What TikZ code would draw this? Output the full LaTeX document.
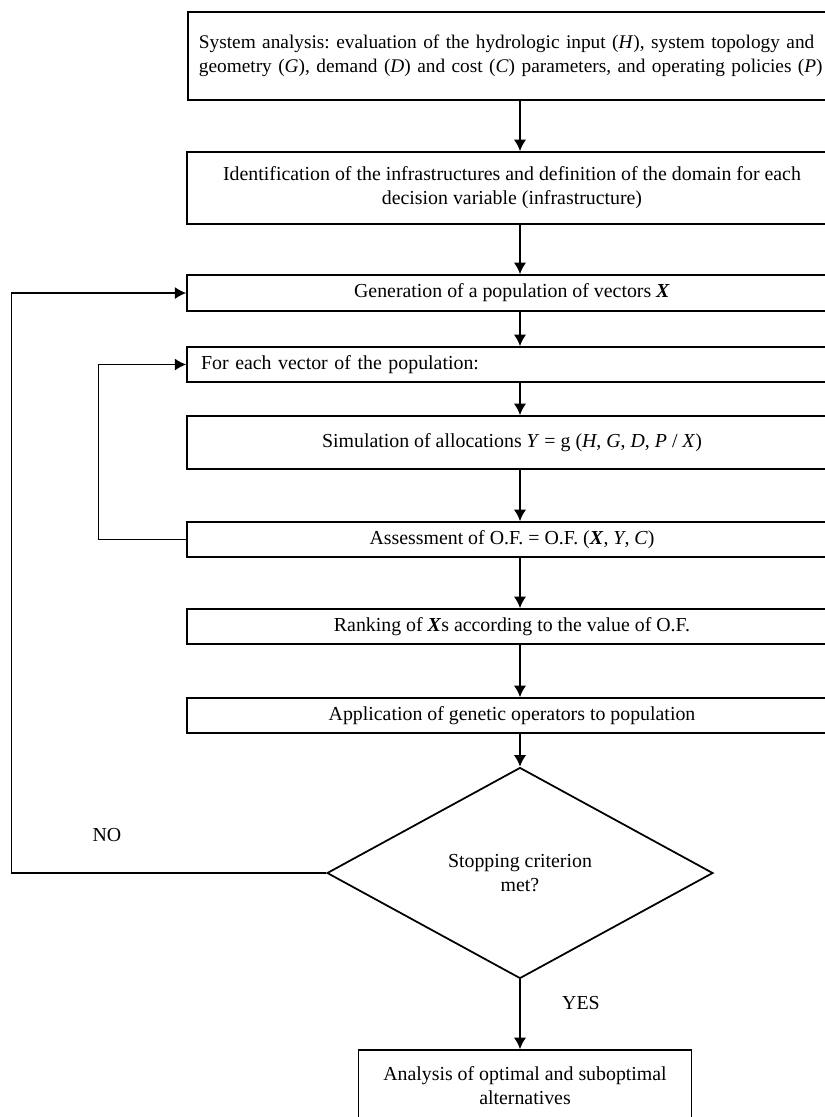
\documentclass[tikz,border=0pt]{standalone}
\usepackage{fontspec}
\setmainfont{Liberation Serif}
\frenchspacing
\usetikzlibrary{shapes.geometric,arrows.meta}

\tikzset{
	txt/.style = {font = \fontsize{11.3}{13.7}\selectfont},
	box/.style = {txt, draw, line width = 1pt, rectangle, minimum width = 13cm, inner xsep = 0.2cm, align = center},
	arr/.style = {-{Latex[length = 6.5pt, width = 7pt]}, line width = 1pt},
}

\begin{document}
\begin{tikzpicture}[x = 0.02cm, y = -0.02cm]
	%	frame
	\clip (0, 0) rectangle (825, 1117);
	
	%	main axis and loop corners
	\coordinate (ax) at (520, 0);
	\coordinate (outer) at (11.6, 0);
	\coordinate (inner) at (98.4, 0);
	
	%	boxes
	\node[box, font = \fontsize{11}{13.7}\selectfont, minimum height = 1.766cm, text width = 13.5cm, inner xsep = 0.22cm, align = left, anchor = west] (sys) at (187, 56)
		{System analysis: evaluation of the hydrologic input (\textit{H}), system topology and\\
		geometry (\textit{G}), demand (\textit{D}) and cost (\textit{C}) parameters, and operating policies (\textit{P})};
	\node[box, minimum height = 1.44cm] (ident) at (512, 188)
		{Identification of the infrastructures and definition of the domain for each\\ decision variable (infrastructure)};
	\node[box, minimum height = 0.72cm] (gen) at (512, 293)
		{Generation of a population of vectors \textbf{\textit{X}}};
	\node[box, minimum height = 0.70cm, text width = 12.44cm, inner xsep = 0.28cm, align = left] (foreach) at (512, 364.5)
		{For each vector of the population:};
	\node[box, minimum height = 1.06cm] (sim) at (512, 442.5)
		{Simulation of allocations \textit{Y} = g (\textit{H}, \textit{G}, \textit{D}, \textit{P} / \textit{X})};
	\node[box, minimum height = 0.70cm] (assess) at (512, 539.5)
		{Assessment of O.F. = O.F. (\textbf{\textit{X}}, \textit{Y}, \textit{C})};
	\node[box, minimum height = 0.70cm] (rank) at (512, 626.5)
		{Ranking of \textbf{\textit{X}}s according to the value of O.F.};
	\node[box, minimum height = 0.70cm] (appl) at (512, 715.5)
		{Application of genetic operators to population};
	
	%	decision
	\node[txt, draw, diamond, line width = 1pt, minimum width = 7.72cm, minimum height = 4.22cm, inner sep = 0, align = center] (stop) at (520, 873)
		{Stopping criterion\\ met?};
	\node[box, minimum width = 6.66cm, minimum height = 1.44cm] (final) at (525, 1086)
		{Analysis of optimal and suboptimal\\ alternatives};
	
	%	labels
	\node[txt] (no) at (107, 835) {NO};
	\node[txt] (yes) at (581, 1003) {YES};
	
	%	arrows
	\foreach \a/\b in {sys/ident, ident/gen, gen/foreach, foreach/sim, sim/assess, assess/rank, rank/appl}
		\draw[arr] (\a.south -| ax) -- (\b.north -| ax);
	\draw[arr] (appl.south -| ax) -- (stop.north);
	\draw[arr] (stop.south) -- (final.north -| ax);
	
	%	loops
	\draw[arr] (stop.west) -- (stop.west -| outer) |- (gen.west);
	\draw[arr] (assess.west) -- (assess.west -| inner) |- (foreach.west);
\end{tikzpicture}
\end{document}
